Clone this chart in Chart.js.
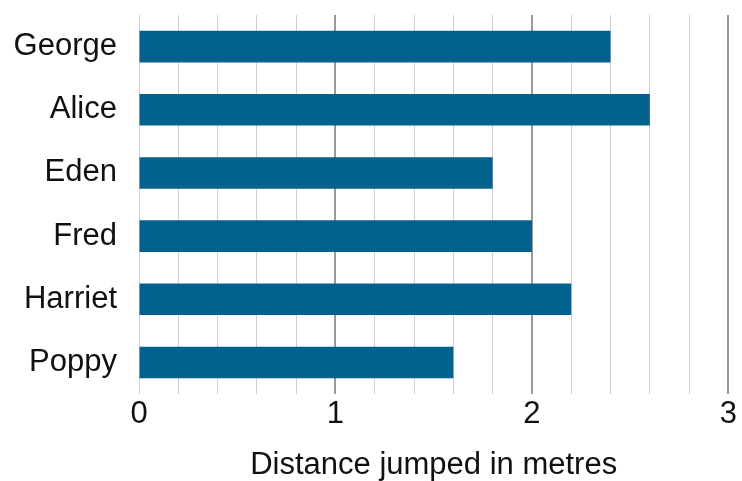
<!DOCTYPE html>
<html>
<head>
<meta charset="utf-8">
<script src="https://cdn.jsdelivr.net/npm/chart.js@4"></script>
<style>
  html, body { margin: 0; padding: 0; background: #fff; }
  #wrap { width: 742px; height: 481px; }
</style>
</head>
<body>
<div id="wrap"><canvas id="chart"></canvas></div>
<script>
const names = ["George", "Alice", "Eden", "Fred", "Harriet", "Poppy"];
const distances = [2.4, 2.6, 1.8, 2.0, 2.2, 1.6];
const xMin = 0, xMax = 3, xStep = 0.2;

const isWhole = v => Math.abs(v - Math.round(v)) < 1e-6;
const font = { family: "Liberation Sans, Arial, sans-serif", size: 31, lineHeight: 1 };

new Chart(document.getElementById("chart"), {
  type: "bar",
  data: {
    labels: names,
    datasets: [{
      data: distances,
      backgroundColor: "#02618d",
      borderWidth: 0,
      barPercentage: 1,
      categoryPercentage: 0.5,
    }],
  },
  options: {
    indexAxis: "y",
    responsive: true, maintainAspectRatio: false,
    animation: false,
    layout: { padding: { top: 15, right: 12, left: 0, bottom: 0 } },
    plugins: { legend: { display: false }, tooltip: { enabled: false } },
    scales: {
      x: {
        min: xMin, max: xMax,
        border: { display: false },
        grid: {
          drawTicks: false,
          color: ctx => (ctx.tick && isWhole(ctx.tick.value) && ctx.tick.value > 0) ? "#9a9a9a" : "#cfcfcf",
          lineWidth: ctx => (ctx.tick && isWhole(ctx.tick.value) && ctx.tick.value > 0) ? 2 : 1,
        },
        ticks: {
          stepSize: xStep,
          autoSkip: false,
          maxRotation: 0,
          padding: 5,
          color: "#111",
          font: font,
          callback: v => isWhole(v) ? String(Math.round(v)) : "",
        },
        title: {
          display: true,
          text: "Distance jumped in metres",
          color: "#111",
          font: font,
          padding: { top: 15, bottom: 0 },
        },
      },
      y: {
        border: { display: false },
        grid: { display: false },
        ticks: {
          padding: 14,
          color: "#111",
          font: font,
        },
        afterFit: scale => {
          scale.width = 139;
          scale.paddingTop = 0;
          scale.paddingBottom = 0;
        },
      },
    },
  },
});
</script>
</body>
</html>
